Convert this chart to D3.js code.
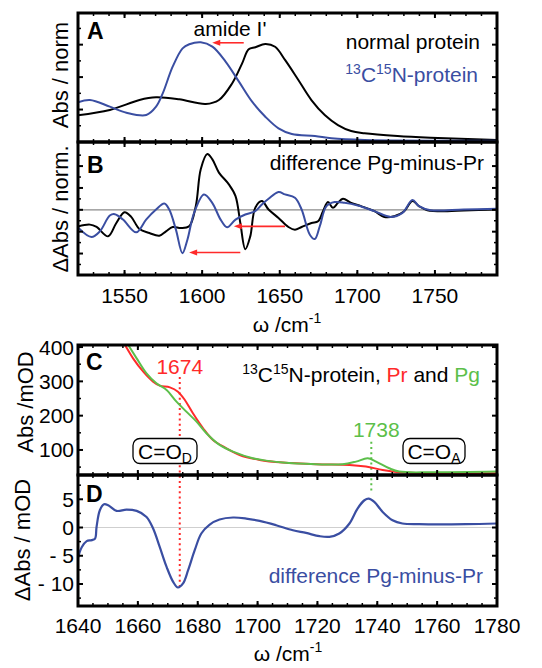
<!DOCTYPE html>
<html><head><meta charset="utf-8">
<script src="https://cdn.jsdelivr.net/npm/d3@7"></script>
<style>
body{margin:0;background:#fff}
svg{display:block}
text{font-family:"Liberation Sans",Arial,Helvetica,sans-serif;}
</style>
</head><body>
<svg id="chart" width="542" height="668"></svg>
<script>
// ---------- DATA ----------
// Panel A: normalized absorbance (wavenumber, value)
const normalA = [[1520,0.27],[1540.5,0.323],[1559.6,0.423],[1570.3,0.45],[1585.2,0.43],[1602.3,0.383],[1610.8,0.423],[1619.3,0.59],[1625.7,0.79],[1630,0.934],[1634.3,0.955],[1640.7,0.988],[1647,0.96],[1653.4,0.827],[1662,0.625],[1670.4,0.423],[1679,0.272],[1687.5,0.171],[1696,0.111],[1704.6,0.088],[1725.9,0.06],[1747.2,0.043],[1790,0.02]];
const isotopeA = [[1520,0.40],[1527.7,0.423],[1540.5,0.356],[1551.2,0.295],[1564,0.272],[1570.3,0.356],[1574.6,0.49],[1581,0.759],[1587.4,0.944],[1591.7,0.985],[1599.1,1.005],[1606.6,0.961],[1615.1,0.81],[1623.7,0.608],[1632.2,0.406],[1640.7,0.255],[1649.2,0.138],[1657.8,0.081],[1672.7,0.06],[1683.3,0.037],[1704.6,0.02],[1790,0.013]];
// Panel B: difference spectra (normalized)
const normalB = [[1520,-0.33],[1527.7,-0.294],[1532,-0.341],[1539.4,-0.527],[1544.7,-0.261],[1550,-0.047],[1554.3,-0.141],[1559.6,-0.381],[1566,-0.461],[1572.4,-0.514],[1576.7,-0.427],[1581,-0.341],[1586.3,-0.361],[1591.6,-0.327],[1595.9,0.073],[1599.1,0.806],[1603.3,1.106],[1606.5,1.006],[1610.8,0.739],[1617.2,0.506],[1621.5,0.273],[1624.6,-0.261],[1627.8,-0.781],[1631,-0.527],[1634.2,0.039],[1638.5,0.173],[1642.8,0.006],[1649.2,-0.161],[1655.6,-0.341],[1659.8,-0.394],[1664.1,-0.341],[1670.5,-0.261],[1674.7,-0.227],[1677.9,-0.027],[1681.1,0.153],[1684.3,0.039],[1687.5,0.139],[1690.7,0.219],[1696,0.139],[1702.4,0.073],[1711,-0.027],[1717.4,-0.141],[1723.8,-0.127],[1730.2,-0.027],[1735.5,0.173],[1739.7,0.073],[1745.1,-0.007],[1757.9,-0.027],[1768.5,-0.014],[1790,0.006]];
const isotopeB = [[1520,-0.35],[1528.7,-0.541],[1534.1,-0.427],[1540.5,-0.114],[1543.7,-0.087],[1549,-0.194],[1557.5,-0.447],[1563.9,-0.194],[1570.3,0.006],[1575.6,0.126],[1578.8,0.006],[1583.1,-0.394],[1587.3,-0.861],[1590.5,-0.594],[1594.8,-0.061],[1601.2,0.306],[1606.5,0.139],[1611.9,-0.194],[1616.1,-0.347],[1621.5,-0.194],[1627.8,-0.094],[1634.2,-0.027],[1638.5,0.106],[1642.8,0.219],[1649.2,0.353],[1653.4,0.306],[1659.8,0.239],[1664.1,0.006],[1669.4,-0.494],[1672.6,-0.581],[1675.8,-0.327],[1680.1,0.073],[1685.4,0.153],[1691.8,0.139],[1700.3,0.086],[1711,-0.027],[1721.6,-0.141],[1729.1,-0.061],[1735.5,0.193],[1739.7,0.073],[1747.2,-0.007],[1768.5,0.006],[1790,0.019]];
// Panel C: absorbance in mOD
const prC = [[1650,490],[1655.7,405.9],[1658.4,367.1],[1661.8,328.2],[1665.1,299.1],[1667.3,287.4],[1670.7,282.6],[1673.4,269.9],[1675.7,245.6],[1678.4,206.9],[1681.8,163.2],[1685.1,129.1],[1689.6,104.9],[1694,85.4],[1700.7,70.9],[1708.4,63.1],[1719.6,58.3],[1730.7,56.3],[1736.2,51.5],[1741.8,41.7],[1747.3,34.9],[1758.4,32],[1780,32]];
const pgC = [[1651,490],[1656.8,405.9],[1659.6,367.1],[1662.9,323.3],[1666.2,294.2],[1669.6,274.8],[1672.9,240.8],[1676.2,211.7],[1679.6,182.6],[1682.9,148.6],[1687.3,114.6],[1691.8,95.1],[1698.4,75.7],[1708.4,63.1],[1719.6,58.3],[1728.4,58.3],[1732.9,66],[1736.8,75.7],[1739.6,66],[1744,46.6],[1747.3,36.9],[1758.4,34.9],[1780,36.9]];
// Panel D: difference in mOD
const diffD = [[1640,-5.4],[1641.2,-3.54],[1642.9,-2.42],[1644.6,-2.24],[1645.7,-1.95],[1646.2,0.1],[1647.3,3.06],[1648.7,4.12],[1650.1,3.94],[1652.9,2.94],[1656.2,3.18],[1659.6,2.94],[1662.9,1.88],[1665.1,-0.18],[1667.3,-3.43],[1669.6,-6.97],[1671.8,-9.63],[1673.4,-10.62],[1675.1,-9.91],[1676.8,-7.55],[1679,-4.02],[1681.2,-1.06],[1684,0.53],[1687.3,1.42],[1691.8,1.77],[1696.2,1.59],[1700.7,1.17],[1706.2,0.41],[1711.8,-0.48],[1716.2,-0.96],[1720.7,-1.54],[1724,-1.65],[1727.3,-1.06],[1730.7,0.71],[1733.4,3.36],[1735.7,4.83],[1737.1,5.13],[1739,4.54],[1741.8,2.76],[1745.1,1.29],[1748.4,0.71],[1754,0.59],[1769.6,0.59],[1780,0.71]];
// tick labels
const ticksAB = [1550,1600,1650,1700,1750];
const ticksCD = [1640,1660,1680,1700,1720,1740,1760,1780];
const ticksCy = [100,200,300,400];
const ticksDy = [5,0,-5,-10];
// arrows [x1,y1,x2,y2] in data coords
const arrowsA = [[1626.8,1.0,1606.5,1.0]];
const arrowsB = [[1653.4,-0.328,1620.4,-0.328],[1624.6,-0.848,1591.6,-0.848]];
// marker positions
const markPr = 1674, markPg = 1738;

// ---------- COLORS ----------
const BLUE="#3a4ea2", RED="#ff2a2a", GREEN="#5cbf4a";
const FONT = 21;

const svg = d3.select("#chart");
const L=78, R=497;
const xAB = d3.scaleLinear().domain([1520,1790]).range([L,R]);
const xCD = d3.scaleLinear().domain([1640,1780]).range([L,R]);
const yA = d3.scaleLinear().domain([0,1.3]).range([142,13]);
const yB = d3.scaleLinear().domain([-1.294,1.346]).range([275,142]);
const yC = d3.scaleLinear().domain([27,406]).range([475,345]);
const yD = d3.scaleLinear().domain([-13.9,9.3]).range([606,475]);

const defs = svg.append("defs");
function clip(id,y0,y1){
  defs.append("clipPath").attr("id",id).append("rect").attr("x",L).attr("y",y0).attr("width",R-L).attr("height",y1-y0);
  return "url(#"+id+")";
}
function drawLine(data,x,y,color,cl,w){
  svg.append("path").datum(data).attr("clip-path",cl)
    .attr("fill","none").attr("stroke",color).attr("stroke-width",w||2)
    .attr("stroke-linejoin","round")
    .attr("d",d3.line().x(d=>x(d[0])).y(d=>y(d[1])).curve(d3.curveCatmullRom.alpha(0.5)));
}
function frameTicks(x,y,xMajor,xMinor,yMajor,yMinor){
  const [y1,y0]=y.range();
  const g=svg.append("g").attr("stroke","#000").attr("stroke-width",1.5);
  xMinor.forEach(v=>{const px=x(v);g.append("line").attr("x1",px).attr("x2",px).attr("y1",y0).attr("y2",y0+3);g.append("line").attr("x1",px).attr("x2",px).attr("y1",y1).attr("y2",y1-3);});
  xMajor.forEach(v=>{const px=x(v);g.append("line").attr("x1",px).attr("x2",px).attr("y1",y0).attr("y2",y0+5).attr("stroke-width",2);g.append("line").attr("x1",px).attr("x2",px).attr("y1",y1).attr("y2",y1-5).attr("stroke-width",2);});
  yMinor.forEach(v=>{const py=y(v);g.append("line").attr("y1",py).attr("y2",py).attr("x1",L).attr("x2",L+3);g.append("line").attr("y1",py).attr("y2",py).attr("x1",R).attr("x2",R-3);});
  yMajor.forEach(v=>{const py=y(v);g.append("line").attr("y1",py).attr("y2",py).attr("x1",L).attr("x2",L+5).attr("stroke-width",2);g.append("line").attr("y1",py).attr("y2",py).attr("x1",R).attr("x2",R-5).attr("stroke-width",2);});
}
function frame(y0,y1){
  svg.append("rect").attr("x",L).attr("y",y0).attr("width",R-L).attr("height",y1-y0)
    .attr("fill","none").attr("stroke","#000").attr("stroke-width",3);
}
function arrow(a,x,y){
  const x1=x(a[0]),y1=y(a[1]),x2=x(a[2]),y2=y(a[3]);
  svg.append("line").attr("x1",x1).attr("y1",y1).attr("x2",x2+6).attr("y2",y2).attr("stroke",RED).attr("stroke-width",1.6);
  svg.append("path").attr("d",`M${x2},${y2}L${x2+8},${y2-3}L${x2+8},${y2+3}Z`).attr("fill",RED);
}
function txt(x,y,s,opt){
  opt=opt||{};
  const t=svg.append("text").attr("x",x).attr("y",y).attr("font-size",opt.size||FONT)
    .attr("fill",opt.color||"#000").attr("text-anchor",opt.anchor||"start");
  if(opt.bold) t.attr("font-weight","bold");
  if(opt.rot) t.attr("transform",`rotate(-90,${x},${y})`);
  if(s!==null) t.text(s);
  return t;
}
function ticksRange(a,b,s){return d3.range(a,b+1e-9,s);}

// ---------- Panel A ----------
const clA=clip("cA",13,142);
drawLine(normalA,xAB,yA,"#000",clA);
drawLine(isotopeA,xAB,yA,BLUE,clA);
frameTicks(xAB,yA,ticksAB,ticksRange(1530,1780,10),[0.327,0.654,0.981],[0.1635,0.4905,0.8175,1.1445]);
arrowsA.forEach(a=>arrow(a,xAB,yA));
txt(87,39,"A",{bold:true,size:23});
txt(230,36,"amide I'",{anchor:"middle"});
txt(480,49,"normal protein",{anchor:"end"});
{const t=txt(478,82,null,{anchor:"end",color:BLUE});
 t.append("tspan").attr("font-size",14).attr("dy",-8).text("13");
 t.append("tspan").attr("dy",8).text("C");
 t.append("tspan").attr("font-size",14).attr("dy",-8).text("15");
 t.append("tspan").attr("dy",8).text("N-protein");}

// ---------- Panel B ----------
const clB=clip("cB",142,275);
svg.append("line").attr("x1",L).attr("x2",R).attr("y1",yB(0)).attr("y2",yB(0)).attr("stroke","#8a8a8a").attr("stroke-width",1.3);
drawLine(normalB,xAB,yB,"#000",clB);
drawLine(isotopeB,xAB,yB,BLUE,clB);
frameTicks(xAB,yB,ticksAB,ticksRange(1530,1780,10),[-0.868,-0.434,0,0.434,0.868],[-1.085,-0.651,-0.217,0.217,0.651,1.085]);
arrowsB.forEach(a=>arrow(a,xAB,yB));
frame(13,142); frame(142,275);
txt(87,173,"B",{bold:true,size:23});
txt(484,170,"difference Pg-minus-Pr",{anchor:"end"});
ticksAB.forEach(v=>txt(xAB(v),303,String(v),{anchor:"middle"}));
{const t=txt(287,332,null,{anchor:"middle"});
 t.append("tspan").text("\u03c9 /cm");
 t.append("tspan").attr("font-size",14).attr("dy",-9).text("-1");}
txt(68,75,"Abs / norm",{anchor:"middle",rot:true,size:22});
txt(68,209,"\u0394Abs / norm.",{anchor:"middle",rot:true,size:22});

// ---------- Panel C ----------
const clC=clip("cC",345,475);
// markers (dotted) spanning C and D
svg.append("line").attr("x1",xCD(markPr)).attr("x2",xCD(markPr)).attr("y1",yC(313)).attr("y2",yD(-10.6))
  .attr("stroke",RED).attr("stroke-width",2).attr("stroke-dasharray","2,3.2");
svg.append("line").attr("x1",xCD(markPg)).attr("x2",xCD(markPg)).attr("y1",yC(124)).attr("y2",yD(6))
  .attr("stroke",GREEN).attr("stroke-width",2).attr("stroke-dasharray","2,3.2");
drawLine(prC,xCD,yC,RED,clC);
drawLine(pgC,xCD,yC,GREEN,clC);
frameTicks(xCD,yC,ticksCD,ticksRange(1645,1775,5),ticksCy,[50,150,250,350]);
txt(86,370,"C",{bold:true,size:23});
txt(xCD(markPr),374,"1674",{anchor:"middle",color:RED});
txt(xCD(markPg)+5,437,"1738",{anchor:"middle",color:GREEN});
{const t=txt(480,382,null,{anchor:"end"});
 t.append("tspan").attr("font-size",14).attr("dy",-8).text("13");
 t.append("tspan").attr("dy",8).text("C");
 t.append("tspan").attr("font-size",14).attr("dy",-8).text("15");
 t.append("tspan").attr("dy",8).text("N-protein, ");
 t.append("tspan").attr("fill",RED).text("Pr");
 t.append("tspan").text(" and ");
 t.append("tspan").attr("fill",GREEN).text("Pg");}
function box(x,w,sub){
  svg.append("rect").attr("x",x).attr("y",438.5).attr("width",w).attr("height",25).attr("rx",7)
    .attr("fill","#fff").attr("stroke","#000").attr("stroke-width",1.3);
  const t=txt(x+w/2,459,null,{anchor:"middle"});
  t.append("tspan").text("C=O");
  t.append("tspan").attr("font-size",14).attr("dy",4).text(sub);
}
box(133,64,"D");
box(403,62,"A");
ticksCy.forEach(v=>txt(74,yC(v)+7.5,String(v),{anchor:"end"}));
txt(33,402,"Abs /mOD",{anchor:"middle",rot:true,size:22});

// ---------- Panel D ----------
const clD=clip("cD",475,606);
svg.append("line").attr("x1",L).attr("x2",R).attr("y1",yD(0)).attr("y2",yD(0)).attr("stroke","#cfcfcf").attr("stroke-width",1.2);
drawLine(diffD,xCD,yD,BLUE,clD,2.2);
frameTicks(xCD,yD,ticksCD,ticksRange(1645,1775,5),ticksDy,[7.5,2.5,-2.5,-7.5,-12.5]);
frame(345,475); frame(475,606);
txt(86,502,"D",{bold:true,size:23});
txt(483,583,"difference Pg-minus-Pr",{anchor:"end",color:BLUE});
ticksDy.forEach(v=>txt(74,yD(v)+7.5,v<0?"- "+Math.abs(v):String(v),{anchor:"end"}));
ticksCD.forEach(v=>txt(xCD(v),633,String(v),{anchor:"middle"}));
{const t=txt(288,661,null,{anchor:"middle"});
 t.append("tspan").text("\u03c9 /cm");
 t.append("tspan").attr("font-size",14).attr("dy",-9).text("-1");}
txt(30,540,"\u0394Abs / mOD",{anchor:"middle",rot:true,size:22});
</script>
</body></html>
